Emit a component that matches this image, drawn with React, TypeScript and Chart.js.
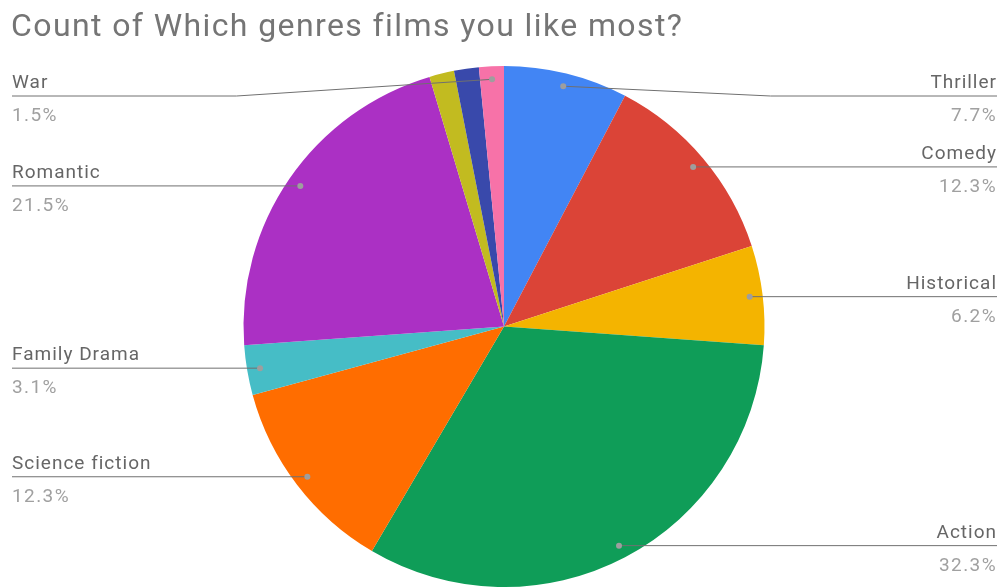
import React, { useEffect, useRef } from "react";
import { Chart, registerables } from "chart.js";

Chart.register(...registerables);

const titleText = "Count of Which genres films you like most?";
const categories = ["Thriller", "Comedy", "Historical", "Action", "Science fiction", "Family Drama", "Romantic", "", "", "War"];
const counts = [5, 8, 4, 21, 8, 2, 14, 1, 1, 1];
const sliceColors = ["#4285F4", "#DB4437", "#F4B400", "#0F9D58", "#FF6D00", "#46BDC6", "#AB30C4", "#C2BB20", "#3949AB", "#F772A8"];

const FONT = "Roboto, 'Noto Sans', sans-serif";

const labelPlugin = {
  id: "outsideLabels",
  afterDraw(chart: any) {
    const ctx = chart.ctx as any;
    const meta = chart.getDatasetMeta(0);
    const data = chart.data.datasets[0].data as number[];
    const total = data.reduce((a, b) => a + b, 0);
    const W = chart.width;
    ctx.save();
    // title
    ctx.fillStyle = "#757575";
    ctx.font = `32px ${FONT}`;
    ctx.letterSpacing = "1.4px";
    ctx.textAlign = "left";
    ctx.textBaseline = "alphabetic";
    ctx.fillText(titleText, 11, 36);

    const minLineY = 96;
    meta.data.forEach((arc: any, i: number) => {
      const name = chart.data.labels[i] as string;
      if (!name) return;
      const p = arc.getProps(["x", "y", "startAngle", "endAngle", "outerRadius"], true);
      const mid = (p.startAngle + p.endAngle) / 2;
      const R = p.outerRadius;
      const dx = p.x + Math.cos(mid) * R * 0.95;
      const dy = p.y + Math.sin(mid) * R * 0.95;
      const right = Math.cos(mid) >= 0;
      const lineY = Math.max(dy, minLineY);
      const edgeX = right ? W - 3 : 12;
      ctx.strokeStyle = "#707070";
      ctx.lineWidth = 1;
      ctx.beginPath();
      ctx.moveTo(dx, dy);
      if (Math.abs(lineY - dy) > 1) {
        const bendX = right ? p.x + R + 6 : p.x - R - 7;
        ctx.lineTo(bendX, lineY);
      }
      ctx.lineTo(edgeX, lineY);
      ctx.stroke();
      ctx.fillStyle = "#9E9E9E";
      ctx.beginPath();
      ctx.arc(dx, dy, 3, 0, Math.PI * 2);
      ctx.fill();
      const pct = ((data[i] / total) * 100).toFixed(1) + "%";
      ctx.textAlign = right ? "right" : "left";
      const tx = right ? W - 3 : 12;
      ctx.font = `19px ${FONT}`;
      ctx.letterSpacing = "1px";
      ctx.fillStyle = "#666666";
      ctx.fillText(name, tx, lineY - 8);
      ctx.letterSpacing = "1.4px";
      ctx.fillStyle = "#A0A0A0";
      ctx.fillText(pct, tx, lineY + 25);
    });
    ctx.restore();
  },
};

export default function App() {
  const ref = useRef<HTMLCanvasElement | null>(null);
  useEffect(() => {
    if (!ref.current) return;
    const chart = new Chart(ref.current, {
      type: "pie",
      data: {
        labels: categories,
        datasets: [
          {
            data: counts,
            backgroundColor: sliceColors,
            borderWidth: 0,
          },
        ],
      },
      options: {
        animation: false,
        responsive: false,
        maintainAspectRatio: false,
        layout: { padding: { top: 66, bottom: 0, left: 8, right: 0 } },
        plugins: { legend: { display: false }, tooltip: { enabled: false }, title: { display: false } },
      },
      plugins: [labelPlugin],
    });
    return () => chart.destroy();
  }, []);
  return (
    <div style={{ position: "absolute", left: 0, top: 0, width: 1000, height: 587, background: "#fff" }}>
      <canvas ref={ref} width={1000} height={587} style={{ width: 1000, height: 587, display: "block" }} />
    </div>
  );
}
